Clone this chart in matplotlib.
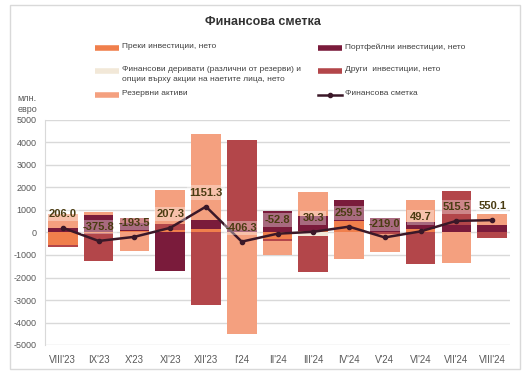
import matplotlib.pyplot as plt
import numpy as np
from matplotlib.lines import Line2D
from matplotlib.patches import Rectangle

plt.rcParams['font.family'] = ['Liberation Sans', 'DejaVu Sans']

months = ["VIII'23", "IX'23", "X'23", "XI'23", "XII'23", "I'24", "II'24",
          "III'24", "IV'24", "V'24", "VI'24", "VII'24", "VIII'24"]

direct = [-563, -20, 60, 110, 150, 30, -300, 50, 500, 40, 150, 20, 40]
portfolio = [207, 784, 380, -1700, 400, 60, 950, 700, 950, 590, 300, 320, 300]
derivatives = [10, 0, 0, 10, 0, 20, 0, -150, 0, 0, 0, 10, 0]
other = [-74, -1258, 200, 250, -3220, 4000, -80, -1600, 0, -50, -1400.3, 1500, -260]
reserves = [626, 118.2, -833.5, 1537.3, 3821.3, -4516.3, -622.8, 1030.3, -1190.5, -799, 1000, -1334.5, 470.1]
fin_account = [206.0, -375.8, -193.5, 207.3, 1151.3, -406.3, -52.8, 30.3, 259.5, -219.0, 49.7, 515.5, 550.1]

series = [
    ("Преки инвестиции, нето", direct, '#F07F4C'),
    ("Портфейлни инвестиции, нето", portfolio, '#7A1B3B'),
    ("Финансови деривати (различни от резерви) и\nопции върху акции на наетите лица, нето", derivatives, '#F2E8D8'),
    ("Други  инвестиции, нето", other, '#B3464A'),
    ("Резервни активи", reserves, '#F4A07F'),
]
line_color = '#3B1828'
narrow = ['Liberation Sans Narrow', 'Liberation Sans', 'DejaVu Sans']

fig = plt.figure(figsize=(5.29, 3.76), dpi=100)
ax = fig.add_axes([45 / 529, 1 - 345 / 376, 465 / 529, 225 / 376])

x = np.arange(len(months))
pos_bottom = np.zeros(len(months))
neg_bottom = np.zeros(len(months))
for name, vals, col in series:
    v = np.array(vals, dtype=float)
    bottoms = np.where(v >= 0, pos_bottom, neg_bottom)
    ax.bar(x, v, bottom=bottoms, width=0.83, color=col, zorder=2)
    pos_bottom += np.where(v >= 0, v, 0)
    neg_bottom += np.where(v < 0, v, 0)

ax.plot(x, fin_account, color=line_color, lw=1.8, marker='o', ms=3, zorder=4)
for xi, val in zip(x, fin_account):
    ax.annotate(f"{val:.1f}", (xi, val), xytext=(0, 10), textcoords='offset points',
                ha='center', va='center', fontsize=8, fontweight='bold', color='#4A3C12',
                bbox=dict(boxstyle='square,pad=0.2', fc='white', ec='none', alpha=0.35),
                zorder=5)

ax.set_ylim(-5000, 5000)
ax.set_xlim(-0.5, len(months) - 0.5)
ax.set_yticks(np.arange(-5000, 5001, 1000))
ax.set_yticklabels([str(t) for t in range(-5000, 5001, 1000)])
ax.set_xticks(x)
ax.set_xticklabels(months)
ax.tick_params(axis='both', length=0, labelsize=7, colors='#595959')
ax.tick_params(axis='x', pad=7)
ax.tick_params(axis='y', labelsize=6.5, pad=6)
ax.grid(axis='y', color='#D9D9D9', lw=1, zorder=0)
for s in ['top', 'right', 'bottom']:
    ax.spines[s].set_visible(False)
ax.spines['left'].set_color('#D9D9D9')

fig.text(263 / 529, 1 - 22 / 376, "Финансова сметка", ha='center', va='center',
         fontsize=9, fontweight='bold', color='#333333')
fig.text(27 / 529, 1 - 104 / 376, "млн.\nевро", ha='center', va='center',
         fontsize=6.5, color='#595959', linespacing=1.3)

# legend, drawn by hand to follow the two-column layout
rows = [48, 71, 95]
slots = [(0, 0), (1, 0), (0, 1), (1, 1), (0, 2)]
for (name, vals, col), (c, r) in zip(series, slots):
    x0 = 95 if c == 0 else 318
    y = 1 - rows[r] / 376
    fig.add_artist(Line2D([x0 / 529, (x0 + 24) / 529], [y, y], color=col, lw=4,
                          solid_capstyle='butt'))
    fig.text((x0 + 27) / 529, y + 0.013, name, ha='left', va='top', fontsize=6,
             color='#404040', linespacing=1.6, family=narrow)
y = 1 - rows[2] / 376
fig.add_artist(Line2D([318 / 529, 342 / 529], [y, y], color=line_color, lw=1.8))
fig.add_artist(Line2D([330 / 529], [y], color=line_color, marker='o', ms=3))
fig.text(345 / 529, y + 0.013, "Финансова сметка", ha='left', va='top', fontsize=6,
         color='#404040', family=narrow)

fig.add_artist(Rectangle((10 / 529, 1 - 369 / 376), 510 / 529, 364 / 376,
                         fill=False, ec='#D9D9D9', lw=1))

fig.savefig('out.png', dpi=100)
